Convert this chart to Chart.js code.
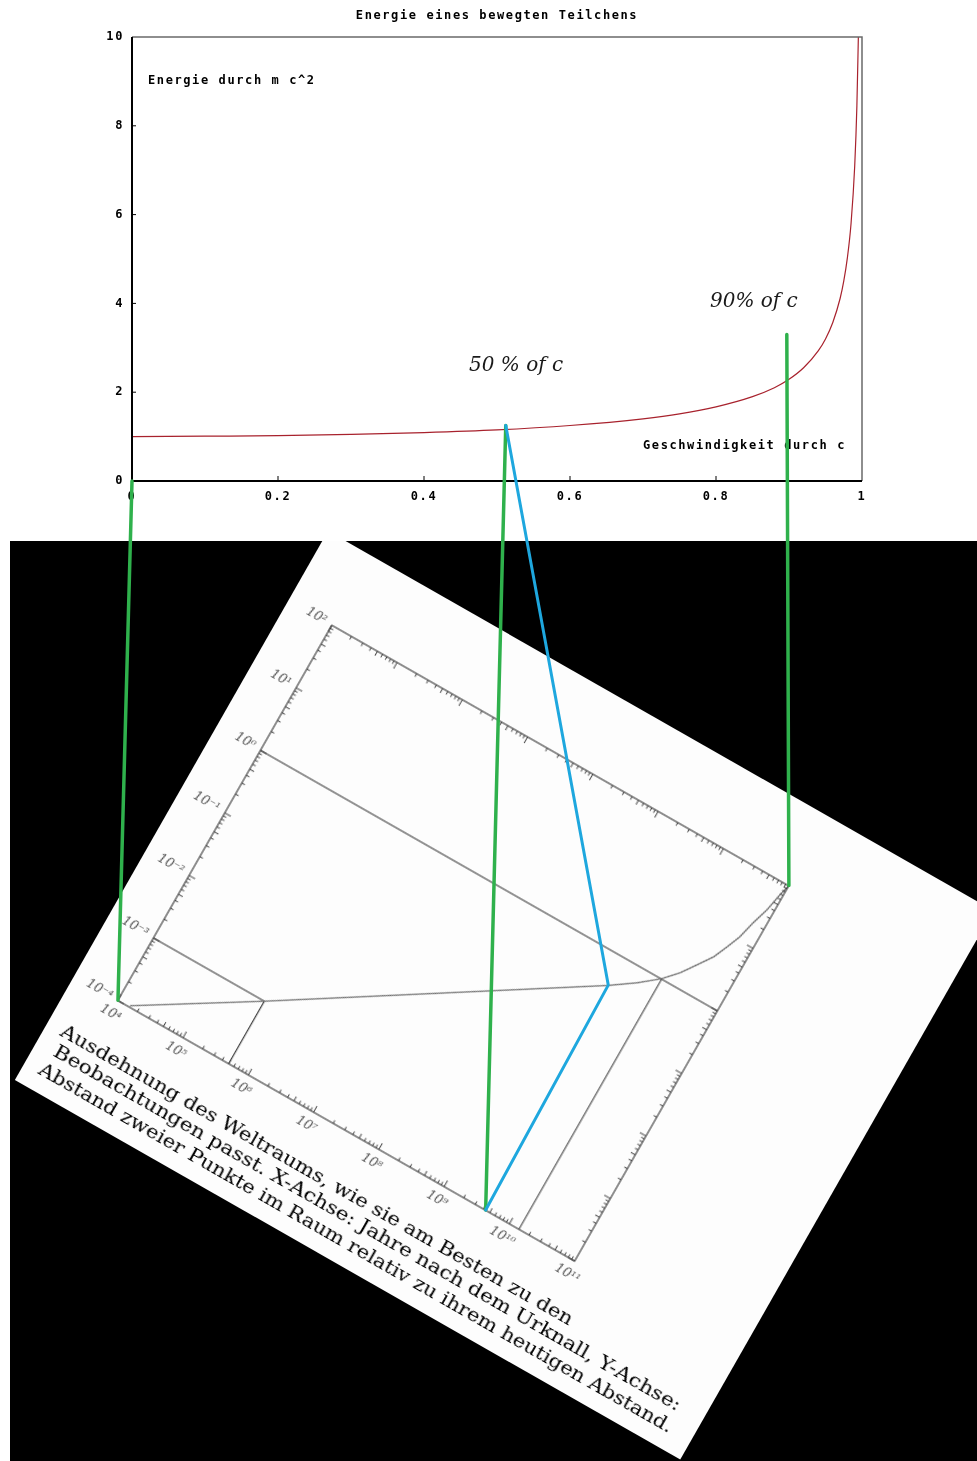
<!DOCTYPE html>
<html>
<head>
<meta charset="utf-8">
<script src="https://cdn.jsdelivr.net/npm/chart.js@4.4.1/dist/chart.umd.min.js"></script>
<style>
  html, body { margin: 0; padding: 0; background: #fff; width: 977px; height: 1461px; overflow: hidden; }
  #dark { position: absolute; left: 10px; top: 541px; width: 967px; height: 920px; background: #000; overflow: hidden; }
  #paper { position: absolute; width: 766px; height: 632px; background: #fdfdfd; transform-origin: 0 0; }
  #paper canvas { display: block; }
  #energy { position: absolute; left: 0; top: 0; z-index: 2; }
</style>
</head>
<body>
<div id="dark"><div id="paper"><canvas id="scan" width="766" height="632"></canvas></div></div>
<canvas id="energy" width="977" height="1461"></canvas>
<script>
// ---- Energie eines bewegten Teilchens: E/(m c^2) über v/c ----
const speedRatio  = [0, 0.1, 0.2, 0.3, 0.4, 0.5, 0.6, 0.7, 0.75, 0.8, 0.85, 0.88, 0.9, 0.92, 0.94, 0.95, 0.96, 0.97, 0.975, 0.98, 0.985, 0.99, 0.993, 0.995];
const energyRatio = [1.00, 1.01, 1.02, 1.05, 1.09, 1.15, 1.25, 1.40, 1.51, 1.67, 1.90, 2.10, 2.29, 2.55, 2.93, 3.20, 3.57, 4.11, 4.50, 5.03, 5.80, 7.09, 8.45, 10.0];
const speedTicks = [0, 0.2, 0.4, 0.6, 0.8, 1];
const speedTickLabels = ['0', '0.2', '0.4', '0.6', '0.8', '1'];
const energyTicks = [0, 2, 4, 6, 8, 10];
const energyTickLabels = ['0', '2', '4', '6', '8', '10'];

// ---- Ausdehnung des Weltraums: Skalenfaktor über Jahre nach dem Urknall ----
const ageYears    = [1.5e4, 5.0e5, 3.7e9, 7.8e9, 1.4e10, 2.1e10, 2.9e10, 4.0e10, 4.9e10, 5.9e10, 6.8e10, 8.1e10, 9.1e10, 1.0e11];
const scaleFactor = [1.05e-4, 1.0e-3, 0.36, 0.62, 1.02, 1.62, 2.63, 4.27, 6.9, 11.2, 20.4, 37, 69, 100];
const recombAge = 5.0e5;     // Entkopplung
const recombScale = 1.0e-3;
const todayAge = 1.4e10;     // heute
const todayScale = 1;
const ageTicks = [1e4, 1e5, 1e6, 1e7, 1e8, 1e9, 1e10, 1e11];
const ageTickLabels = ['10⁴', '10⁵', '10⁶', '10⁷', '10⁸', '10⁹', '10¹⁰', '10¹¹'];
const scaleTicks = [1e-4, 1e-3, 1e-2, 1e-1, 1, 10, 100];
const scaleTickLabels = ['10⁻⁴', '10⁻³', '10⁻²', '10⁻¹', '10⁰', '10¹', '10²'];
const captionLines = [
  'Ausdehnung des Weltraums, wie sie am Besten zu den',
  'Beobachtungen passt. X-Achse: Jahre nach dem Urknall, Y-Achse:',
  'Abstand zweier Punkte im Raum relativ zu ihrem heutigen Abstand.'
];

// ---- Verbindungslinien zwischen beiden Diagrammen ----
const linkSpeed  = [0, 0.512, 0.897];
const linkEnergy = [0, 1.25, 3.3];
const linkAge    = [1e4, 4.3e9, 1e11];
const linkScale  = [1e-4, 1e-4, 100];
const bendAge = 3.7e9, bendScale = 0.36;

// placement of the scanned sheet on the page
const PAPER_X = 328.2, PAPER_Y = 530.7, PAPER_ANGLE = 29.7;
const paperEl = document.getElementById('paper');
paperEl.style.left = (PAPER_X - 10) + 'px';
paperEl.style.top = (PAPER_Y - 541) + 'px';
paperEl.style.transform = 'rotate(' + PAPER_ANGLE + 'deg)';

const monoFont = { family: '"DejaVu Sans Mono", monospace', weight: 'bold', size: 12 };
const scanFont = { family: '"DejaVu Serif", serif', style: 'italic', size: 13 };

// frame, inward ticks and caption of the scanned log-log plot
const scanDecor = {
  id: 'scanDecor',
  afterDatasetsDraw(chart) {
    const { ctx, chartArea: a, scales: { x, y } } = chart;
    ctx.save();
    ctx.strokeStyle = '#333';
    ctx.lineWidth = 1.1;
    ctx.strokeRect(a.left, a.top, a.right - a.left, a.bottom - a.top);
    ctx.beginPath();
    ctx.lineWidth = 0.9;
    const e0x = Math.round(Math.log10(x.min)), e1x = Math.round(Math.log10(x.max));
    for (let e = e0x; e < e1x; e++) {
      for (let k = 1; k < 10; k++) {
        const p = x.getPixelForValue(k * Math.pow(10, e));
        const len = k === 1 ? 7 : (k === 5 ? 5 : 3.5);
        ctx.moveTo(p, a.bottom); ctx.lineTo(p, a.bottom - len);
        ctx.moveTo(p, a.top); ctx.lineTo(p, a.top + len);
      }
    }
    const e0y = Math.round(Math.log10(y.min)), e1y = Math.round(Math.log10(y.max));
    for (let e = e0y; e < e1y; e++) {
      for (let k = 1; k < 10; k++) {
        const p = y.getPixelForValue(k * Math.pow(10, e));
        const len = k === 1 ? 7 : (k === 5 ? 5 : 3.5);
        ctx.moveTo(a.left, p); ctx.lineTo(a.left + len, p);
        ctx.moveTo(a.right, p); ctx.lineTo(a.right - len, p);
      }
    }
    ctx.stroke();
    ctx.restore();
  },
  afterDraw(chart) {
    const { ctx } = chart;
    const starts = [[16, 566], [20, 587], [16, 610]];
    const widths = [587, 719, 727];
    ctx.save();
    ctx.fillStyle = '#000';
    ctx.font = '18px "DejaVu Serif", serif';
    ctx.textBaseline = 'middle';
    captionLines.forEach((line, i) => {
      const w = ctx.measureText(line).width;
      ctx.save();
      ctx.translate(starts[i][0], starts[i][1]);
      ctx.scale(widths[i] / w, 1);
      ctx.fillText(line, 0, 0);
      ctx.restore();
    });
    ctx.restore();
  }
};

const scanChart = new Chart(document.getElementById('scan'), {
  type: 'line',
  data: {
    datasets: [
      { data: ageYears.map((t, i) => ({ x: t, y: scaleFactor[i] })), borderColor: '#6b6b6b', borderWidth: 1.3 },
      { data: [{ x: ageTicks[0], y: todayScale }, { x: ageTicks[ageTicks.length - 1], y: todayScale }], borderColor: '#2a2a2a', borderWidth: 1.2 },
      { data: [{ x: ageTicks[0], y: recombScale }, { x: recombAge, y: recombScale }, { x: recombAge, y: scaleTicks[0] }], borderColor: '#2a2a2a', borderWidth: 1.1 },
      { data: [{ x: todayAge, y: todayScale }, { x: todayAge, y: scaleTicks[0] }], borderColor: '#444', borderWidth: 1.1 }
    ]
  },
  options: {
    responsive: false,
    animation: false,
    events: [],
    elements: { point: { radius: 0 }, line: { tension: 0, fill: false } },
    layout: { padding: { top: 80, right: 190, bottom: 90, left: 0 } },
    plugins: { legend: { display: false }, tooltip: { enabled: false } },
    scales: {
      x: {
        type: 'logarithmic', min: ageTicks[0], max: ageTicks[ageTicks.length - 1],
        afterBuildTicks: s => { s.ticks = ageTicks.map(v => ({ value: v })); },
        afterFit: s => { s.height = 30; },
        grid: { display: false, drawTicks: false }, border: { display: false },
        ticks: { padding: 7, color: '#555', font: scanFont, autoSkip: false, maxRotation: 0, minRotation: 0,
                 callback: v => ageTickLabels[ageTicks.indexOf(v)] }
      },
      y: {
        type: 'logarithmic', min: scaleTicks[0], max: scaleTicks[scaleTicks.length - 1],
        afterBuildTicks: s => { s.ticks = scaleTicks.map(v => ({ value: v })); },
        afterFit: s => { s.width = 50; },
        grid: { display: false, drawTicks: false }, border: { display: false },
        ticks: { padding: 7, color: '#555', font: scanFont, autoSkip: false,
                 callback: v => scaleTickLabels[scaleTicks.indexOf(v)] }
      }
    }
  },
  plugins: [scanDecor]
});

// frame, inward ticks and in-plot labels of the energy plot
const energyDecor = {
  id: 'energyDecor',
  beforeDraw(chart) { chart.ctx.letterSpacing = '1.6px'; },
  afterDatasetsDraw(chart) {
    const { ctx, chartArea: a, scales: { x, y } } = chart;
    ctx.save();
    ctx.strokeStyle = '#6a6a6a';
    ctx.lineWidth = 1.5;
    ctx.beginPath();
    ctx.moveTo(a.left, a.top); ctx.lineTo(a.right, a.top); ctx.lineTo(a.right, a.bottom);
    ctx.stroke();
    ctx.strokeStyle = '#000';
    ctx.lineWidth = 2;
    ctx.beginPath();
    ctx.moveTo(a.left, a.top); ctx.lineTo(a.left, a.bottom); ctx.lineTo(a.right, a.bottom);
    ctx.stroke();
    ctx.lineWidth = 1;
    ctx.beginPath();
    energyTicks.slice(1, -1).forEach(v => { const p = y.getPixelForValue(v); ctx.moveTo(a.left, p); ctx.lineTo(a.left + 4, p); });
    speedTicks.slice(1, -1).forEach(v => { const p = x.getPixelForValue(v); ctx.moveTo(p, a.bottom); ctx.lineTo(p, a.bottom - 5); });
    ctx.stroke();

    ctx.fillStyle = '#000';
    ctx.font = 'bold 12px "DejaVu Sans Mono", monospace';
    ctx.textBaseline = 'middle';
    ctx.textAlign = 'center';
    ctx.fillText('Energie eines bewegten Teilchens', (a.left + a.right) / 2, 16);
    ctx.textAlign = 'left';
    ctx.fillText('Energie durch m c^2', a.left + 16, 81);
    ctx.fillText('Geschwindigkeit durch c', 643, 446);

    ctx.letterSpacing = '0px';
    ctx.font = 'italic 20px "DejaVu Serif", serif';
    ctx.fillStyle = '#1a1a1a';
    ctx.fillText('50 % of c', 469, 366);
    ctx.fillText('90% of c', 710, 302);
    ctx.restore();
  },
  afterDraw(chart) {
    const { ctx, scales: { x, y } } = chart;
    const sx = scanChart.scales.x, sy = scanChart.scales.y;
    const r = PAPER_ANGLE * Math.PI / 180, c = Math.cos(r), s = Math.sin(r);
    const onSheet = (age, a) => {
      const lx = sx.getPixelForValue(age), ly = sy.getPixelForValue(a);
      return [PAPER_X + lx * c - ly * s, PAPER_Y + lx * s + ly * c];
    };
    const onEnergy = (v, e) => [x.getPixelForValue(v), y.getPixelForValue(e)];
    ctx.save();
    ctx.letterSpacing = '0px';
    ctx.lineCap = 'round';
    ctx.lineJoin = 'round';

    ctx.strokeStyle = '#2fb14c';
    ctx.lineWidth = 3.5;
    ctx.beginPath();
    linkSpeed.forEach((v, i) => {
      const p0 = onEnergy(v, linkEnergy[i]);
      const p1 = onSheet(linkAge[i], linkScale[i]);
      ctx.moveTo(p0[0], p0[1]); ctx.lineTo(p1[0], p1[1]);
    });
    ctx.stroke();

    ctx.strokeStyle = '#1ea7de';
    ctx.lineWidth = 3;
    ctx.beginPath();
    const b0 = onEnergy(linkSpeed[1], linkEnergy[1]);
    const b1 = onSheet(bendAge, bendScale);
    const b2 = onSheet(linkAge[1], linkScale[1]);
    ctx.moveTo(b0[0], b0[1]); ctx.lineTo(b1[0], b1[1]); ctx.lineTo(b2[0], b2[1]);
    ctx.stroke();
    ctx.restore();
  }
};

new Chart(document.getElementById('energy'), {
  type: 'line',
  data: {
    datasets: [{
      data: speedRatio.map((v, i) => ({ x: v, y: energyRatio[i] })),
      borderColor: '#a8222d', borderWidth: 1.2, pointRadius: 0, fill: false,
      cubicInterpolationMode: 'monotone'
    }]
  },
  options: {
    responsive: false,
    animation: false,
    events: [],
    layout: { padding: { top: 37, right: 115, bottom: 950, left: 0 } },
    plugins: { legend: { display: false }, tooltip: { enabled: false } },
    scales: {
      x: {
        type: 'linear', min: speedTicks[0], max: speedTicks[speedTicks.length - 1],
        afterBuildTicks: s => { s.ticks = speedTicks.map(v => ({ value: v })); },
        afterFit: s => { s.height = 30; },
        grid: { display: false, drawTicks: false }, border: { display: false },
        ticks: { padding: 9, color: '#000', font: monoFont, autoSkip: false, maxRotation: 0, minRotation: 0,
                 callback: v => speedTickLabels[speedTicks.indexOf(v)] }
      },
      y: {
        type: 'linear', min: energyTicks[0], max: energyTicks[energyTicks.length - 1],
        afterBuildTicks: s => { s.ticks = energyTicks.map(v => ({ value: v })); },
        afterFit: s => { s.width = 132; },
        grid: { display: false, drawTicks: false }, border: { display: false },
        ticks: { padding: 8, color: '#000', font: monoFont, autoSkip: false,
                 callback: v => energyTickLabels[energyTicks.indexOf(v)] }
      }
    }
  },
  plugins: [energyDecor]
});
</script>
</body>
</html>
